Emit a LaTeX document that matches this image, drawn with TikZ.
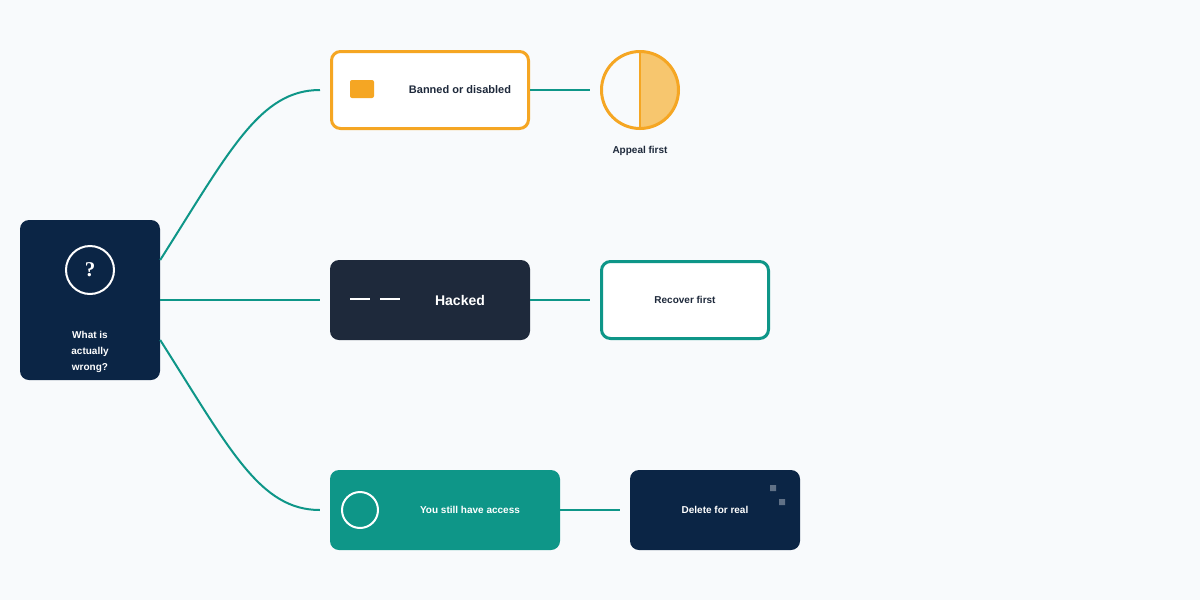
\documentclass[tikz,border=0pt]{standalone}
\usepackage{fontspec}
\setmainfont{Liberation Sans}
\newfontfamily\qfont{Liberation Serif}
\usetikzlibrary{positioning}
\definecolor{navy}{HTML}{0B2545}
\definecolor{slate}{HTML}{1E293B}
\definecolor{teal}{HTML}{0E9688}
\definecolor{amber}{HTML}{F5A623}
\definecolor{amberlight}{HTML}{F7C66E}
\definecolor{paper}{HTML}{F8FAFC}
\definecolor{ink}{HTML}{1E293B}
\tikzset{
    box/.style = {rectangle, rounded corners=9pt, minimum height=80pt,
        font=\bfseries\fontsize{11}{13}\selectfont, align=center},
    link/.style = {draw=teal, line width=2pt, shorten >=10pt},
    label/.style = {font=\bfseries\fontsize{10}{12}\selectfont, text=ink}
}

\begin{document}
\begin{tikzpicture}[x=1pt,y=-1pt]
        \useasboundingbox (0,0) rectangle (1200,600);
        \fill[paper] (0,0) rectangle (1200,600);
        \node [box, fill=navy, minimum width=140pt, minimum height=160pt] (root) at (90,300) {};
        \draw [white, line width=2pt] (90,270) circle (24pt);
        \node [text=white, font=\qfont\bfseries\fontsize{21}{21}\selectfont] (qmark) at (90,270) {?};
        \node [text=white, font=\bfseries\fontsize{10}{16}\selectfont, align=center] (question) at (90,352) {What is\\actually\\wrong?};
        % top branch
        \node [box, draw=amber, line width=3pt, fill=white, minimum width=197pt, minimum height=77pt, text=ink] (banned) at (430,90) {\hspace*{60pt}Banned or disabled};
        \fill [amber, rounded corners=2pt] (350,80) rectangle (374,98);
        \node [circle, minimum size=80pt] (appeal) at (640,90) {};
        \begin{scope}
            \clip (640,90) circle (39pt);
            \fill [amberlight] (640,50) rectangle (682,130);
        \end{scope}
        \draw [amber, line width=3pt] (640,90) circle (38.5pt);
        \draw [amber, line width=2pt] (640,52) -- (640,128);
        \node [label] (appealtext) at (640,151) {Appeal first};
        % middle branch
        \node [box, fill=slate, minimum width=200pt, text=white, font=\bfseries\fontsize{14}{16}\selectfont] (hacked) at (430,300) {\hspace*{60pt}Hacked};
        \draw [white, line width=2pt] (350,299) -- (370,299) (380,299) -- (400,299);
        \node [box, draw=teal, line width=3pt, fill=white, minimum width=167pt, minimum height=77pt, label] (recover) at (685,300) {Recover first};
        % bottom branch
        \node [box, fill=teal, minimum width=230pt, text=white, font=\bfseries\fontsize{10}{12}\selectfont] (access) at (445,510) {\hspace*{50pt}You still have access};
        \draw [white, line width=2pt] (360,510) circle (18pt);
        \node [box, fill=navy, minimum width=170pt, text=white, font=\bfseries\fontsize{10}{12}\selectfont] (delete) at (715,510) {Delete for real};
        \fill [white!35!navy] (770,485) rectangle (776,491) (779,499) rectangle (785,505);
        % connectors
        \draw [link] ([yshift=40pt]root.east) .. controls (230,150) and (260,90) .. (banned.west);
        \draw [link] (root.east) -- (hacked.west);
        \draw [link] ([yshift=-40pt]root.east) .. controls (230,450) and (260,510) .. (access.west);
        \draw [link] (banned.east) -- (appeal.west);
        \draw [link] (hacked.east) -- (recover.west);
        \draw [link] (access.east) -- (delete.west);
    \end{tikzpicture}
\end{document}
